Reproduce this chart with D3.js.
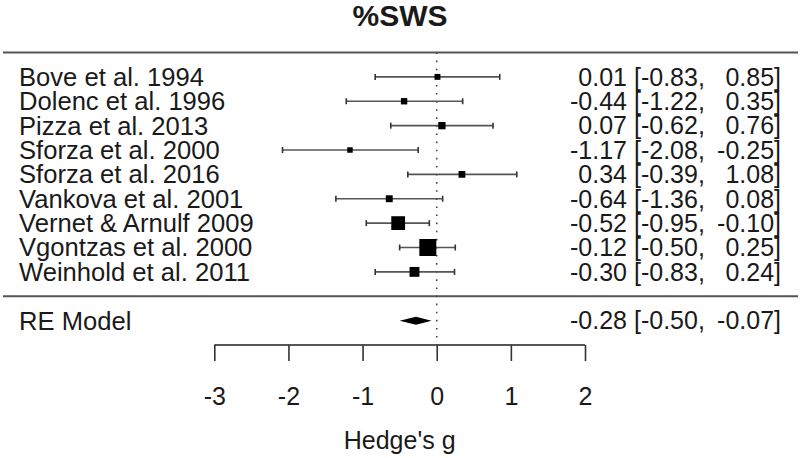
<!DOCTYPE html>
<html>
<head>
<meta charset="utf-8">
<script src="https://cdn.jsdelivr.net/npm/d3@7"></script>
<style>
  html, body { margin: 0; padding: 0; background: #fff; }
  svg { display: block; font-family: "Liberation Sans", Arial, Helvetica, sans-serif; }
</style>
</head>
<body>
<svg id="chart" width="800" height="458"></svg>
<script>
// ---- data ----
const title = "%SWS";
const studies = ["Bove et al. 1994", "Dolenc et al. 1996", "Pizza et al. 2013", "Sforza et al. 2000",
  "Sforza et al. 2016", "Vankova et al. 2001", "Vernet & Arnulf 2009", "Vgontzas et al. 2000", "Weinhold et al. 2011"];
const estimates = [0.01, -0.44, 0.07, -1.17, 0.34, -0.64, -0.52, -0.12, -0.30];
const lower = [-0.83, -1.22, -0.62, -2.08, -0.39, -1.36, -0.95, -0.50, -0.83];
const upper = [0.85, 0.35, 0.76, -0.25, 1.08, 0.08, -0.10, 0.25, 0.24];
const weights = [5.3, 6.2, 8.1, 4.5, 7.0, 7.3, 21.0, 27.4, 13.2];
const modelLabel = "RE Model";
const modelEst = -0.28, modelLo = -0.50, modelHi = -0.07;
const xTicks = [-3, -2, -1, 0, 1, 2];
const xLabel = "Hedge's g";

// ---- layout ----
const svg = d3.select("#chart");
const k = studies.length;
const x = d3.scaleLinear().domain([-3, 2]).range([214.3, 585]);
const y = d3.scaleLinear().domain([k + 1, -2]).range([52.5, 345]);
const size = d3.scaleLinear().domain(d3.extent(weights)).range([5.5, 17]);
const fmt = v => d3.format(".2f")(v).replace("\u2212", "-");
const fs = 25;
const lineCol = "#555";
const textCol = "#1a1a1a";

// title
svg.append("text").attr("x", 400).attr("y", 26).attr("text-anchor", "middle")
  .attr("font-size", 30).attr("font-weight", "bold").attr("fill", textCol).text(title);

// horizontal rules
[k + 1, 0].forEach(r => {
  svg.append("line").attr("x1", 3).attr("x2", 798).attr("y1", y(r)).attr("y2", y(r))
    .attr("stroke", lineCol).attr("stroke-width", 2);
});

// reference line at 0
svg.append("line").attr("x1", x(0)).attr("x2", x(0)).attr("y1", y(k + 1)).attr("y2", y(-2))
  .attr("stroke", "#444").attr("stroke-width", 1.6).attr("stroke-dasharray", "1.6,6.5");

const rows = studies.map((s, i) => ({ s, est: estimates[i], lo: lower[i], hi: upper[i], w: weights[i], row: k - i }));

const g = svg.append("g");
// CI lines
g.selectAll("line.ci").data(rows).join("line").attr("class", "ci")
  .attr("x1", d => x(d.lo)).attr("x2", d => x(d.hi)).attr("y1", d => y(d.row)).attr("y2", d => y(d.row))
  .attr("stroke", lineCol).attr("stroke-width", 1.6);
// end ticks
["lo", "hi"].forEach(key => {
  g.selectAll("line.t" + key).data(rows).join("line").attr("class", "t" + key)
    .attr("x1", d => x(d[key])).attr("x2", d => x(d[key]))
    .attr("y1", d => y(d.row) - 3).attr("y2", d => y(d.row) + 3)
    .attr("stroke", "#333").attr("stroke-width", 1.6);
});
// squares
g.selectAll("rect.pt").data(rows).join("rect").attr("class", "pt")
  .attr("x", d => x(d.est) - size(d.w) / 2).attr("y", d => y(d.row) - size(d.w) / 2)
  .attr("width", d => size(d.w)).attr("height", d => size(d.w)).attr("fill", "#000");

// study labels
g.selectAll("text.lab").data(rows).join("text").attr("class", "lab")
  .attr("x", 19).attr("y", d => y(d.row)).attr("dy", "0.35em")
  .attr("font-size", 25.6).attr("fill", textCol).text(d => d.s);

// annotations
const ann = rows.concat([{ est: modelEst, lo: modelLo, hi: modelHi, row: -1 }]);
g.selectAll("text.est").data(ann).join("text").attr("class", "est")
  .attr("x", 627).attr("y", d => y(d.row)).attr("dy", "0.35em").attr("text-anchor", "end")
  .attr("font-size", fs).attr("fill", textCol).text(d => fmt(d.est));
g.selectAll("text.lo").data(ann).join("text").attr("class", "lo")
  .attr("x", 634).attr("y", d => y(d.row)).attr("dy", "0.35em").attr("text-anchor", "start")
  .attr("font-size", fs).attr("fill", textCol).text(d => "[" + fmt(d.lo) + ",");
g.selectAll("text.hi").data(ann).join("text").attr("class", "hi")
  .attr("x", 781).attr("y", d => y(d.row)).attr("dy", "0.35em").attr("text-anchor", "end")
  .attr("font-size", fs).attr("fill", textCol).text(d => fmt(d.hi) + "]");

// model row
svg.append("text").attr("x", 19).attr("y", y(-1)).attr("dy", "0.35em")
  .attr("font-size", 25.6).attr("fill", textCol).text(modelLabel);
const ym = y(-1), hh = 4;
svg.append("path")
  .attr("d", `M${x(modelLo)},${ym}L${x(modelEst)},${ym - hh}L${x(modelHi)},${ym}L${x(modelEst)},${ym + hh}Z`)
  .attr("fill", "#000");

// x axis
const axisG = svg.append("g").attr("transform", `translate(0,${y(-2)})`)
  .call(d3.axisBottom(x).tickValues(xTicks).tickSize(16).tickPadding(26).tickFormat(d => (d < 0 ? "-" + Math.abs(d) : String(d))));
axisG.select(".domain").attr("d", `M${x(-3)},0H${x(2)}`).attr("stroke", lineCol).attr("stroke-width", 2);
axisG.selectAll(".tick line").attr("stroke", "#333").attr("stroke-width", 1.6);
axisG.selectAll(".tick text").attr("font-size", fs).attr("fill", textCol)
  .attr("font-family", "Liberation Sans, Arial, sans-serif");

svg.append("text").attr("x", x(-0.5)).attr("y", 449).attr("text-anchor", "middle")
  .attr("font-size", fs).attr("fill", textCol).text(xLabel);
</script>
</body>
</html>
